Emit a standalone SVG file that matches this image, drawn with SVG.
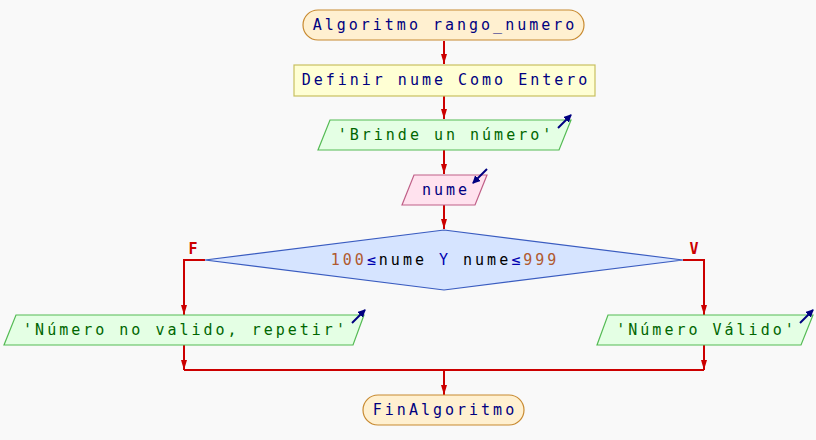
<svg xmlns="http://www.w3.org/2000/svg" width="816" height="440" viewBox="0 0 816 440">
<defs>
<marker id="ah" viewBox="0 0 10 6" refX="10" refY="3" markerWidth="10" markerHeight="6" markerUnits="userSpaceOnUse" orient="auto">
<path d="M0,0 L10,3 L0,6 z" fill="#cc0000"/>
</marker>
<marker id="io" viewBox="0 0 8 8" refX="7" refY="4" markerWidth="8" markerHeight="8" markerUnits="userSpaceOnUse" orient="auto">
<path d="M0,0 L8,4 L0,8 z" fill="#000080"/>
</marker>
</defs>
<style>
text{font-family:"DejaVu Sans Mono","Liberation Mono",monospace;font-size:15px;letter-spacing:3px;text-anchor:middle}
.term{fill:#fff0d0;stroke:#c88a30;stroke-width:1.2}
.proc{fill:#ffffd4;stroke:#c8c060;stroke-width:1.2}
.out{fill:#e4ffe4;stroke:#55bb55;stroke-width:1.2}
.inp{fill:#ffe2ee;stroke:#c06088;stroke-width:1.2}
.dec{fill:#d6e4ff;stroke:#3a5cc0;stroke-width:1.2}
.tb{fill:#000080}
.tg{fill:#006600}
.num{fill:#b05a30}
.op{fill:#0000b0}
.blk{fill:#000000}
.wire{fill:none;stroke:#cc0000;stroke-width:2}
.icon{fill:none;stroke:#000080;stroke-width:2}
.lbl{fill:#cc0000;font-family:"DejaVu Sans Mono","Liberation Mono",monospace;font-weight:bold;font-size:15px;letter-spacing:0}
</style>
<rect width="816" height="440" fill="#f9f9f9"/>
<g id="connectors">
<path class="wire" d="M444,41 V64" marker-end="url(#ah)"/>
<path class="wire" d="M444,96 V119" marker-end="url(#ah)"/>
<path class="wire" d="M444,150 V174" marker-end="url(#ah)"/>
<path class="wire" d="M444,205 V229" marker-end="url(#ah)"/>
<path class="wire" d="M205,260 H184 V315" marker-end="url(#ah)"/>
<path class="wire" d="M683,260 H704 V315" marker-end="url(#ah)"/>
<path class="wire" d="M184,345 V370" marker-end="url(#ah)"/>
<path class="wire" d="M704,345 V370" marker-end="url(#ah)"/>
<path class="wire" d="M184,370 H704"/>
<path class="wire" d="M444,370 V395" marker-end="url(#ah)"/>
<text class="lbl" x="193" y="254">F</text>
<text class="lbl" x="694" y="254">V</text>
</g>
<g id="start">
<rect class="term" x="303" y="10" width="281" height="30" rx="15"/>
<text class="tb" x="445" y="30">Algoritmo rango_numero</text>
</g>
<g id="define">
<rect class="proc" x="294" y="65" width="301" height="31"/>
<text class="tb" x="446" y="85">Definir nume Como Entero</text>
</g>
<g id="output1">
<polygon class="out" points="330,120 571,120 559,150 318,150"/>
<text class="tg" x="446" y="140">'Brinde un número'</text>
<path class="icon" d="M558,128 L571,115" marker-end="url(#io)"/>
</g>
<g id="input1">
<polygon class="inp" points="414,175 487,175 475,205 402,205"/>
<text class="tb" x="446" y="195">nume</text>
<path class="icon" d="M487,169 L473,183" marker-end="url(#io)"/>
</g>
<g id="decision">
<polygon class="dec" points="444,230 683,260 444,290 205,260"/>
<text x="445" y="265"><tspan class="num">100</tspan><tspan class="op">≤</tspan><tspan class="blk">nume </tspan><tspan class="op">Y</tspan><tspan class="blk"> nume</tspan><tspan class="op">≤</tspan><tspan class="num">999</tspan></text>
</g>
<g id="output_no">
<polygon class="out" points="16,315 364,315 353,345 4,345"/>
<text class="tg" x="185.5" y="335">'Número no valido, repetir'</text>
<path class="icon" d="M352,323 L365,310" marker-end="url(#io)"/>
</g>
<g id="output_yes">
<polygon class="out" points="608,315 813,315 801,345 597,345"/>
<text class="tg" x="706.5" y="335">'Número Válido'</text>
<path class="icon" d="M800,323 L813,310" marker-end="url(#io)"/>
</g>
<g id="end">
<rect class="term" x="363" y="395" width="161" height="30" rx="15"/>
<text class="tb" x="445" y="415">FinAlgoritmo</text>
</g>
</svg>
